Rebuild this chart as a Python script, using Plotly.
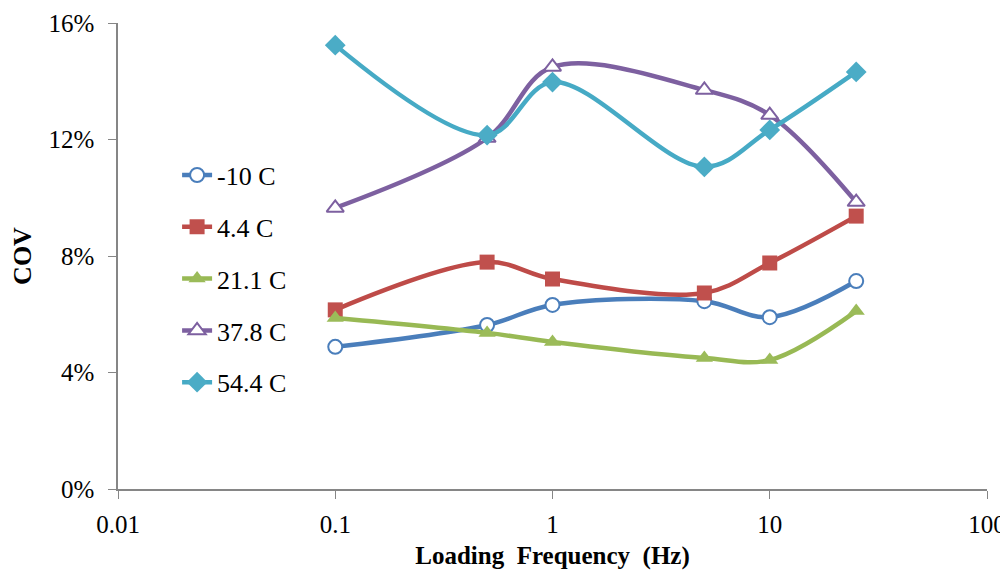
import plotly.graph_objects as go

freq = [0.1, 0.5, 1, 5, 10, 25]
series_names = ["-10 C", "4.4 C", "21.1 C", "37.8 C", "54.4 C"]
cov_m10 = [4.88, 5.63, 6.32, 6.45, 5.90, 7.14]
cov_4_4 = [6.15, 7.79, 7.21, 6.73, 7.76, 9.37]
cov_21_1 = [5.87, 5.36, 5.05, 4.50, 4.43, 6.11]
cov_37_8 = [9.65, 12.05, 14.49, 13.70, 12.84, 9.85]
cov_54_4 = [15.24, 12.15, 13.97, 11.06, 12.33, 14.32]

y_ticks = [0, 4, 8, 12, 16]
y_tick_labels = ["0%", "4%", "8%", "12%", "16%"]
x_ticks = [0.01, 0.1, 1, 10, 100]
x_tick_labels = ["0.01", "0.1", "1", "10", "100"]

data = [cov_m10, cov_4_4, cov_21_1, cov_37_8, cov_54_4]
line_colors = ["#4A7EBB", "#BE4B48", "#98B954", "#7D60A0", "#46AAC5"]
marker_fill = ["white", "#C0504D", "#9BBB59", "white", "#4BACC6"]
marker_line = ["#4A7EBB", "#C0504D", "#9BBB59", "#7D60A0", "#4BACC6"]
symbols = ["circle", "square", "triangle-up", "triangle-up", "diamond"]
sizes = [14, 15, 15, 15, 16]

fig = go.Figure()
for i, (name, ys) in enumerate(zip(series_names, data)):
    fig.add_trace(go.Scatter(
        x=freq, y=ys, name=name, mode="lines+markers",
        legendgroup=name,
        line=dict(color=line_colors[i], width=4.5, shape="spline", smoothing=1.0),
        marker=dict(symbol=symbols[i], size=sizes[i], color=marker_fill[i],
                    line=dict(color=marker_line[i], width=2 if marker_fill[i] == "white" else 0)),
    ))

font_family = "Liberation Serif"
fig.update_layout(
    width=1000, height=569,
    margin=dict(l=110, r=21, t=15, b=88),
    paper_bgcolor="white", plot_bgcolor="white",
    font=dict(family=font_family, size=24, color="black"),
    showlegend=True,
    legend=dict(x=0.068, y=0.724, xanchor="left", yanchor="top",
                bgcolor="rgba(0,0,0,0)", traceorder="grouped", tracegroupgap=15,
                font=dict(family=font_family, size=26, color="black")),
    xaxis=dict(type="log", range=[-2, 2], tickvals=x_ticks, ticktext=x_tick_labels,
               showgrid=False, zeroline=False, showline=True, linecolor="#868686",
               linewidth=1.5, ticks="outside", ticklen=8, tickcolor="#868686",
               automargin=False, ticklabelstandoff=4,
               tickfont=dict(family=font_family, size=25),
               title=dict(text="Loading\u00a0\u00a0Frequency\u00a0\u00a0(Hz)",
                          font=dict(family=font_family, size=25, weight="bold"), standoff=10)),
    yaxis=dict(range=[0, 16], tickvals=y_ticks, ticktext=y_tick_labels,
               showgrid=False, zeroline=False, showline=True, linecolor="#868686",
               linewidth=1.5, ticks="outside", ticklen=8, tickcolor="#868686",
               automargin=False,
               tickfont=dict(family=font_family, size=25), ticklabelstandoff=9,
               title=dict(text="COV", font=dict(family=font_family, size=26, weight="bold"),
                          standoff=14)),
)

fig.write_html("out.html")
